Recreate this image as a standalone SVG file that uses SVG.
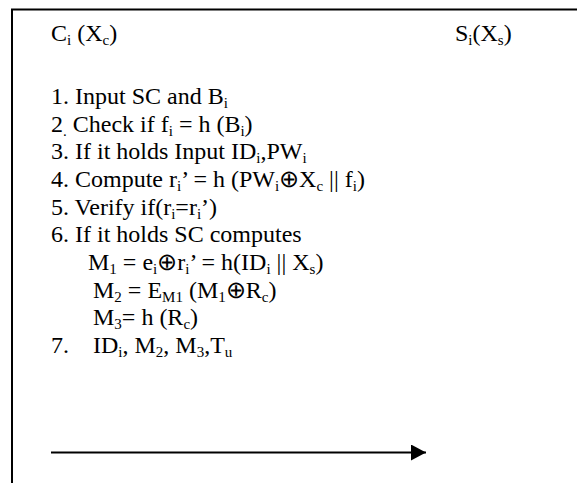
<svg xmlns="http://www.w3.org/2000/svg" width="577" height="483" viewBox="0 0 577 483">
<style>
text{font-family:"Liberation Serif","Times New Roman",serif;font-size:24px;fill:#000}
.s{font-size:15px;baseline-shift:-4px}
.frame{stroke:#000;stroke-width:2;fill:none}
</style>
<defs>
<marker id="ah" markerWidth="16" markerHeight="16" refX="15" refY="8" orient="auto" markerUnits="userSpaceOnUse">
<path d="M0,0 L15,8 L0,16 Z" fill="#000"/>
</marker>
</defs>
<rect width="577" height="483" fill="#fff"/>
<g id="frame">
<path class="frame" d="M577,9.5 H12 V483"/>
</g>
<g id="client"><text x="51" y="41">C<tspan class="s">i</tspan> (X<tspan class="s">c</tspan>)</text></g>
<g id="server"><text x="455" y="41">S<tspan class="s">i</tspan>(X<tspan class="s">s</tspan>)</text></g>
<g id="steps">
<text x="51" y="104">1. Input SC and B<tspan class="s">i</tspan></text>
<text x="51" y="132">2<tspan class="s">.</tspan> Check if f<tspan class="s">i</tspan> = h (B<tspan class="s">i</tspan>)</text>
<text x="51" y="159">3. If it holds Input ID<tspan class="s">i</tspan>,PW<tspan class="s">i</tspan></text>
<text x="51" y="187">4. Compute r<tspan class="s">i</tspan>’ = h (PW<tspan class="s">i</tspan>⊕X<tspan class="s">c</tspan> || f<tspan class="s">i</tspan>)</text>
<text x="51" y="215">5. Verify if(r<tspan class="s">i</tspan>=r<tspan class="s">i</tspan>’)</text>
<text x="51" y="242">6. If it holds SC computes</text>
<text x="88" y="270">M<tspan class="s">1</tspan> = e<tspan class="s">i</tspan>⊕r<tspan class="s">i</tspan>’ = h(ID<tspan class="s">i</tspan> || X<tspan class="s">s</tspan>)</text>
<text x="93" y="298">M<tspan class="s">2</tspan> = E<tspan class="s">M1</tspan> (M<tspan class="s">1</tspan>⊕R<tspan class="s">c</tspan>)</text>
<text x="93" y="325">M<tspan class="s">3</tspan>= h (R<tspan class="s">c</tspan>)</text>
<text x="51" y="353">7.</text>
<text x="93" y="353">ID<tspan class="s">i</tspan>, M<tspan class="s">2</tspan>, M<tspan class="s">3</tspan>,T<tspan class="s">u</tspan></text>
</g>
<g id="connectors">
<line x1="51" y1="452.5" x2="426" y2="452.5" stroke="#000" stroke-width="2" marker-end="url(#ah)"/>
</g>
</svg>
